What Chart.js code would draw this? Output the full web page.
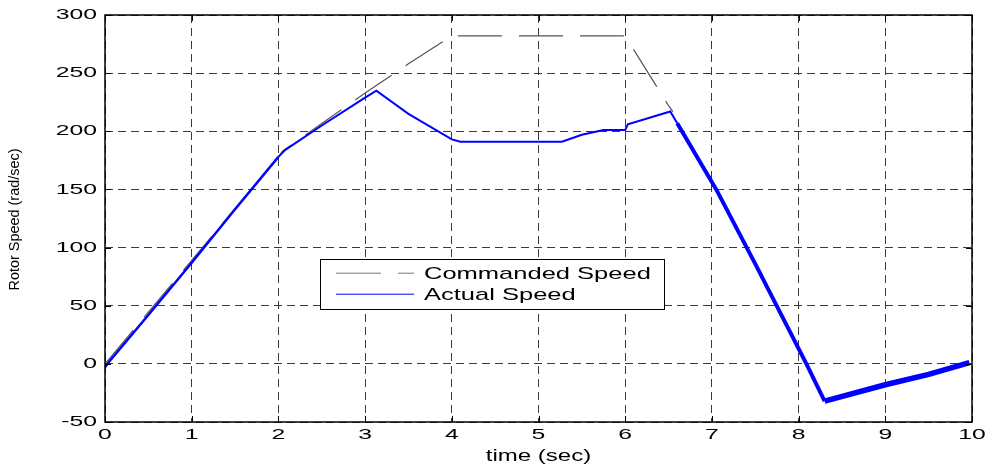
<!DOCTYPE html>
<html>
<head>
<meta charset="utf-8">
<script src="https://cdn.jsdelivr.net/npm/chart.js@4/dist/chart.umd.min.js"></script>
<style>
  html, body { margin: 0; padding: 0; background: #fff; }
  canvas { display: block; }
</style>
</head>
<body>
<canvas id="speedChart" width="988" height="470"></canvas>
<script>
// Data
const actualTime  = [0, 0.05, 0.5, 1.0, 1.5, 2.0, 2.08, 2.5, 3.0, 3.13, 3.5, 4.0, 4.1, 5.0, 5.27, 5.5, 5.75, 6.0, 6.03, 6.3, 6.52, 6.6, 7.05, 7.5, 8.09, 8.3, 9.0, 9.5, 9.97];
const actualSpeed = [-3, 2, 42, 87, 133, 178, 184, 205, 229, 235, 215, 193, 191, 191, 191, 197, 201, 201, 206, 212, 217, 207, 150, 86, 0, -32, -18, -9, 1];

const cmdTime  = [0, 1.0, 2.0, 2.05, 3.0, 3.5, 4.0, 6.0, 6.5, 6.55];
const cmdSpeed = [0, 89, 178, 183, 233, 258, 282, 282, 222, 217];

const xTicks = [0, 1, 2, 3, 4, 5, 6, 7, 8, 9, 10];
const yTicks = [-50, 0, 50, 100, 150, 200, 250, 300];

const xLabel = 'time (sec)';
const yLabel = 'Rotor Speed (rad/sec)';
const seriesNames = ['Commanded Speed', 'Actual Speed'];

const toPoints = (xs, ys) => xs.map((x, i) => ({ x: x, y: ys[i] }));

// line thickness of the noisy actual trace
function actualWidth(ctx) {
    const x = ctx.p0.parsed.x;
    if (x >= 8.29) return 5.5;
    if (x >= 6.55) return 4;
    if (x < 2) return 2.5;
    return 2;
}

// frame, inward ticks, stretched labels, legend
const matlabLook = {
    id: 'matlabLook',
    afterDraw(chart) {
        const ctx = chart.ctx;
        const a = chart.chartArea;
        const xs = chart.scales.x, ys = chart.scales.y;

        ctx.save();
        ctx.strokeStyle = '#000';
        ctx.lineWidth = 1.5;
        ctx.setLineDash([]);
        ctx.strokeRect(a.left, a.top, a.right - a.left, a.bottom - a.top);

        ctx.lineWidth = 1;
        ctx.beginPath();
        xTicks.forEach(v => {
            const px = Math.round(xs.getPixelForValue(v)) + 0.5;
            ctx.moveTo(px, a.bottom); ctx.lineTo(px, a.bottom - 6);
            ctx.moveTo(px, a.top); ctx.lineTo(px, a.top + 6);
        });
        yTicks.forEach(v => {
            const py = Math.round(ys.getPixelForValue(v)) + 0.5;
            ctx.moveTo(a.left, py); ctx.lineTo(a.left + 6, py);
            ctx.moveTo(a.right, py); ctx.lineTo(a.right - 6, py);
        });
        ctx.stroke();

        // tick labels (stretched wide like the original)
        ctx.fillStyle = '#000';
        ctx.font = '15px "Liberation Sans", Arial, sans-serif';
        ctx.textBaseline = 'middle';
        const sx = 1.65;
        xTicks.forEach(v => {
            const px = xs.getPixelForValue(v);
            ctx.save();
            ctx.translate(px, a.bottom + 13);
            ctx.scale(sx, 1);
            ctx.textAlign = 'center';
            ctx.fillText(String(v), 0, 0);
            ctx.restore();
        });
        yTicks.forEach(v => {
            const py = ys.getPixelForValue(v);
            ctx.save();
            ctx.translate(a.left - 8, py);
            ctx.scale(sx, 1);
            ctx.textAlign = 'right';
            ctx.fillText(String(v), 0, 0);
            ctx.restore();
        });

        // axis titles
        ctx.save();
        ctx.font = '16px "Liberation Sans", Arial, sans-serif';
        ctx.translate((a.left + a.right) / 2, a.bottom + 35);
        ctx.scale(1.5, 1);
        ctx.textAlign = 'center';
        ctx.fillText(xLabel, 0, 0);
        ctx.restore();

        ctx.save();
        ctx.font = '15px "Liberation Sans", Arial, sans-serif';
        ctx.translate(15, (a.top + a.bottom) / 2 + 1);
        ctx.rotate(-Math.PI / 2);
        const w = ctx.measureText(yLabel).width;
        ctx.scale(142 / w, 1);
        ctx.textAlign = 'center';
        ctx.fillText(yLabel, 0, 0);
        ctx.restore();

        // legend box
        const lx = a.left + (a.right - a.left) * 0.248;
        const lw = (a.right - a.left) * 0.397;
        const ly = a.top + (a.bottom - a.top) * 0.6;
        const lh = 50;
        ctx.fillStyle = '#fff';
        ctx.fillRect(lx, ly, lw, lh);
        ctx.strokeStyle = '#000';
        ctx.lineWidth = 1;
        ctx.strokeRect(Math.round(lx) + 0.5, Math.round(ly) + 0.5, Math.round(lw), lh);

        const rows = [ly + 14, ly + 35];
        ctx.strokeStyle = '#777';
        ctx.lineWidth = 1;
        ctx.setLineDash([45, 17]);
        ctx.beginPath();
        ctx.moveTo(lx + 16, rows[0]); ctx.lineTo(lx + 94, rows[0]);
        ctx.stroke();
        ctx.setLineDash([]);
        ctx.strokeStyle = '#0000ff';
        ctx.beginPath();
        ctx.moveTo(lx + 16, rows[1]); ctx.lineTo(lx + 94, rows[1]);
        ctx.stroke();

        ctx.fillStyle = '#000';
        ctx.font = '17px "Liberation Sans", Arial, sans-serif';
        ctx.textAlign = 'left';
        seriesNames.forEach((name, i) => {
            ctx.save();
            ctx.translate(lx + 104, rows[i] + 1);
            ctx.scale(1.5, 1);
            ctx.fillText(name, 0, 0);
            ctx.restore();
        });
        ctx.restore();
    }
};

const chart = new Chart(document.getElementById('speedChart'), {
    type: 'line',
    data: {
        datasets: [
            {
                label: seriesNames[1],
                data: toPoints(actualTime, actualSpeed),
                borderColor: '#0000ff',
                borderWidth: 2,
                pointRadius: 0,
                tension: 0,
                order: 0,
                segment: { borderWidth: actualWidth }
            },
            {
                label: seriesNames[0],
                data: toPoints(cmdTime, cmdSpeed),
                borderColor: '#555',
                borderWidth: 1.2,
                borderDash: [44, 17],
                pointRadius: 0,
                tension: 0,
                order: 1
            }
        ]
    },
    options: {
        responsive: false,
        animation: false,
        devicePixelRatio: 1,
        layout: { padding: { top: 15, right: 16, left: 0, bottom: 0 } },
        plugins: { legend: { display: false }, tooltip: { enabled: false } },
        scales: {
            x: {
                type: 'linear',
                min: 0,
                max: 10,
                afterBuildTicks: s => { s.ticks = xTicks.map(v => ({ value: v })); },
                afterFit: s => { s.height = 48; },
                ticks: { display: false },
                grid: { color: '#3a3a3a', lineWidth: 1, drawTicks: false },
                border: { display: false, dash: [8, 5] }
            },
            y: {
                min: -50,
                max: 300,
                afterBuildTicks: s => { s.ticks = yTicks.map(v => ({ value: v })); },
                afterFit: s => { s.width = 105; },
                ticks: { display: false },
                grid: { color: '#3a3a3a', lineWidth: 1, drawTicks: false },
                border: { display: false, dash: [8, 5] }
            }
        }
    },
    plugins: [matlabLook]
});
</script>
</body>
</html>
